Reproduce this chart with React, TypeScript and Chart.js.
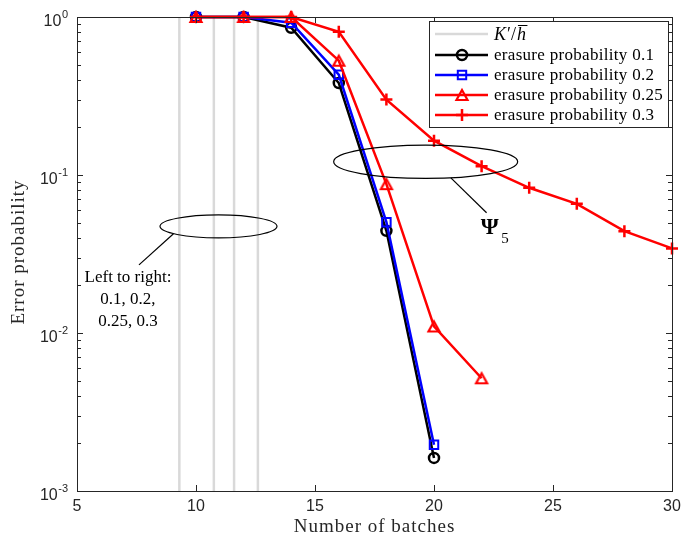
import React, { useEffect, useRef } from "react";
import { Chart, registerables } from "chart.js";

Chart.register(...registerables);

// ---------- data ----------
const batches01 = [10, 12, 14, 16, 18, 20];
const batches02 = [10, 12, 14, 16, 18, 20];
const batches025 = [10, 12, 14, 16, 18, 20, 22];
const batches03 = [10, 12, 14, 16, 18, 20, 22, 24, 26, 28, 30];
const errProb01 = [1, 1, 0.855, 0.382, 0.0443, 0.00162];
const errProb02 = [1, 1, 0.92, 0.431, 0.0503, 0.00196];
const errProb025 = [1, 1, 1, 0.529, 0.0875, 0.011, 0.00517];
const errProb03 = [1, 1, 1, 0.806, 0.3, 0.165, 0.1137, 0.083, 0.0657, 0.0441, 0.0343];
const kOverHbar = [9.3, 10.75, 11.6, 12.6];
const seriesLabels = [
  "erasure probability 0.1",
  "erasure probability 0.2",
  "erasure probability 0.25",
  "erasure probability 0.3",
];
const xTickValues = [5, 10, 15, 20, 25, 30];
const yDecadeExponents = [0, -1, -2, -3];
const xTitle = "Number of batches";
const yTitle = "Error probability";
const noteLines = ["Left to right:", "0.1, 0.2,", "0.25, 0.3"];
const X_MIN = 5;
const X_MAX = 30;
const Y_MIN = 1e-3;
const Y_MAX = 1;
// annotation anchors (data coordinates)
const ellipseLeftAt = { x: 10.945, y: 0.0473 };
const ellipseRightAt = { x: 19.65, y: 0.1213 };

const INK = "#262626";
const GREY = "#d9d9d9";
const SERIF = "'Liberation Serif', 'Times New Roman', serif";
const SANS = "'Liberation Sans', Arial, Helvetica, sans-serif";

const W = 694;
const H = 538;

function makeTriangle(color: string, w: number, h: number, lw: number) {
  const s = 20;
  const c = document.createElement("canvas");
  c.width = s;
  c.height = s;
  const g = c.getContext("2d")!;
  const cx = s / 2;
  const cy = s / 2;
  g.strokeStyle = color;
  g.lineWidth = lw;
  g.lineJoin = "miter";
  g.beginPath();
  g.moveTo(cx, cy - h / 2);
  g.lineTo(cx + w / 2, cy + h / 2);
  g.lineTo(cx - w / 2, cy + h / 2);
  g.closePath();
  g.stroke();
  return c;
}

function drawMarker(ctx: CanvasRenderingContext2D, kind: string, x: number, y: number, color: string, tri?: HTMLCanvasElement) {
  ctx.save();
  ctx.strokeStyle = color;
  ctx.lineWidth = 2.5;
  ctx.beginPath();
  if (kind === "circle") {
    ctx.arc(x, y, 5, 0, Math.PI * 2);
    ctx.stroke();
  } else if (kind === "rect") {
    ctx.lineWidth = 2;
    ctx.rect(x - 4.2, y - 4.2, 8.4, 8.4);
    ctx.stroke();
  } else if (kind === "cross") {
    ctx.moveTo(x - 6, y);
    ctx.lineTo(x + 6, y);
    ctx.moveTo(x, y - 6);
    ctx.lineTo(x, y + 6);
    ctx.stroke();
  } else if (kind === "tri" && tri) {
    ctx.drawImage(tri, x - tri.width / 2, y - tri.height / 2);
  }
  ctx.restore();
}

export default function App() {
  const ref = useRef<HTMLCanvasElement | null>(null);

  useEffect(() => {
    const canvas = ref.current;
    if (!canvas) return;
    const tri = makeTriangle("#ff0000", 11, 10, 2.2);

    const pts = (xs: number[], ys: number[]) => xs.map((x, i) => ({ x, y: ys[i] }));

    const greyLines = kOverHbar.map((k) => ({
      label: "K'/h",
      data: [
        { x: k, y: Y_MIN },
        { x: k, y: Y_MAX },
      ],
      borderColor: GREY,
      borderWidth: 2.5,
      pointRadius: 0,
      order: 10,
    }));

    const overlay = {
      id: "overlay",
      afterDraw(chart: any) {
        const ctx: CanvasRenderingContext2D = chart.ctx;
        const a = chart.chartArea;
        const xs = chart.scales.x;
        const ys = chart.scales.y;
        ctx.save();

        // frame
        ctx.strokeStyle = INK;
        ctx.lineWidth = 1;
        ctx.strokeRect(a.left + 0.5, a.top + 0.5, a.right - a.left, a.bottom - a.top);

        // ticks
        ctx.beginPath();
        xTickValues.forEach((v) => {
          const px = Math.round(xs.getPixelForValue(v)) + 0.5;
          ctx.moveTo(px, a.bottom);
          ctx.lineTo(px, a.bottom - 6);
          ctx.moveTo(px, a.top);
          ctx.lineTo(px, a.top + 6);
        });
        yDecadeExponents.forEach((e) => {
          const py = Math.round(ys.getPixelForValue(Math.pow(10, e))) + 0.5;
          ctx.moveTo(a.left, py);
          ctx.lineTo(a.left + 6, py);
          ctx.moveTo(a.right, py);
          ctx.lineTo(a.right - 6, py);
          if (e > -3) {
            for (let m = 2; m <= 9; m++) {
              const my = Math.round(ys.getPixelForValue(m * Math.pow(10, e - 1))) + 0.5;
              ctx.moveTo(a.left, my);
              ctx.lineTo(a.left + 4, my);
              ctx.moveTo(a.right, my);
              ctx.lineTo(a.right - 4, my);
            }
          }
        });
        ctx.stroke();

        // tick labels
        ctx.fillStyle = INK;
        ctx.font = `16px ${SANS}`;
        ctx.textAlign = "center";
        ctx.textBaseline = "middle";
        xTickValues.forEach((v) => {
          ctx.fillText(String(v), xs.getPixelForValue(v), a.bottom + 16);
        });
        ctx.textAlign = "right";
        ctx.textBaseline = "alphabetic";
        yDecadeExponents.forEach((e) => {
          const py = ys.getPixelForValue(Math.pow(10, e));
          const exp = String(e);
          ctx.font = `11px ${SANS}`;
          const ew = ctx.measureText(exp).width;
          ctx.fillText(exp, a.left - 9, py + 1);
          ctx.font = `16px ${SANS}`;
          ctx.fillText("10", a.left - 9 - ew - 0.5, py + 9.4);
        });

        // axis titles
        ctx.fillStyle = INK;
        ctx.font = `19px ${SERIF}`;
        ctx.textAlign = "center";
        ctx.textBaseline = "middle";
        (ctx as any).letterSpacing = "1px";
        ctx.fillText(xTitle, (a.left + a.right) / 2, a.bottom + 36);
        ctx.save();
        ctx.translate(19, (a.top + a.bottom) / 2 - 2);
        ctx.rotate(-Math.PI / 2);
        ctx.fillText(yTitle, 0, 0);
        ctx.restore();
        (ctx as any).letterSpacing = "0px";

        // legend
        const lx0 = a.right - 243;
        const ly0 = a.top + 4;
        const lx1 = a.right - 4;
        const ly1 = a.top + 110;
        ctx.fillStyle = "#ffffff";
        ctx.fillRect(lx0, ly0, lx1 - lx0, ly1 - ly0);
        ctx.strokeStyle = INK;
        ctx.lineWidth = 1;
        ctx.strokeRect(lx0 + 0.5, ly0 + 0.5, lx1 - lx0, ly1 - ly0);
        const rows = [17, 38, 58, 78, 98].map((d) => a.top + d);
        const sx0 = lx0 + 6;
        const sx1 = lx0 + 59;
        const mx = lx0 + 33;
        const tx = lx0 + 65;
        // K'/h row
        ctx.strokeStyle = GREY;
        ctx.lineWidth = 2.5;
        ctx.beginPath();
        ctx.moveTo(sx0, rows[0]);
        ctx.lineTo(sx1, rows[0]);
        ctx.stroke();
        ctx.fillStyle = "#000";
        ctx.textAlign = "left";
        ctx.textBaseline = "alphabetic";
        const kb = rows[0] + 6;
        let cx = tx;
        ctx.font = `italic 18px ${SERIF}`;
        ctx.fillText("K", cx, kb);
        cx += ctx.measureText("K").width + 1;
        ctx.font = `18px ${SERIF}`;
        ctx.fillText("\u2032/", cx, kb);
        cx += ctx.measureText("\u2032/").width + 1;
        ctx.font = `italic 18px ${SERIF}`;
        ctx.fillText("h", cx, kb);
        const hw = ctx.measureText("h").width;
        ctx.strokeStyle = "#000";
        ctx.lineWidth = 1;
        ctx.beginPath();
        ctx.moveTo(cx + 1, kb - 14.5);
        ctx.lineTo(cx + hw + 1.5, kb - 14.5);
        ctx.stroke();

        const legendSeries = [
          { color: "#000000", kind: "circle" },
          { color: "#0000ff", kind: "rect" },
          { color: "#ff0000", kind: "tri" },
          { color: "#ff0000", kind: "cross" },
        ];
        legendSeries.forEach((s, i) => {
          const y = rows[i + 1];
          ctx.strokeStyle = s.color;
          ctx.lineWidth = 2.5;
          ctx.beginPath();
          ctx.moveTo(sx0, y);
          ctx.lineTo(sx1, y);
          ctx.stroke();
          drawMarker(ctx, s.kind, mx, y, s.color, tri);
          ctx.fillStyle = "#000";
          ctx.font = `17px ${SERIF}`;
          (ctx as any).letterSpacing = "0.3px";
          ctx.textBaseline = "middle";
          ctx.fillText(seriesLabels[i], tx, y + 0.5);
          (ctx as any).letterSpacing = "0px";
        });

        // annotations
        ctx.strokeStyle = "#000";
        ctx.fillStyle = "#000";
        ctx.lineWidth = 1.2;
        const e1x = xs.getPixelForValue(ellipseLeftAt.x);
        const e1y = ys.getPixelForValue(ellipseLeftAt.y);
        ctx.beginPath();
        ctx.ellipse(e1x, e1y, 58.5, 11.5, 0, 0, Math.PI * 2);
        ctx.stroke();
        ctx.beginPath();
        ctx.moveTo(e1x - 45, e1y + 7.4);
        ctx.lineTo(e1x - 79.5, e1y + 38.5);
        ctx.stroke();
        ctx.font = `17px ${SERIF}`;
        ctx.textAlign = "center";
        ctx.textBaseline = "middle";
        noteLines.forEach((t, i) => {
          ctx.fillText(t, e1x - 90.5, e1y + 51.5 + i * 22);
        });

        const e2x = xs.getPixelForValue(ellipseRightAt.x);
        const e2y = ys.getPixelForValue(ellipseRightAt.y);
        ctx.beginPath();
        ctx.ellipse(e2x, e2y, 92, 16.7, 0, 0, Math.PI * 2);
        ctx.stroke();
        ctx.beginPath();
        ctx.moveTo(e2x + 25.2, e2y + 16.1);
        ctx.lineTo(e2x + 60.9, e2y + 51);
        ctx.stroke();
        ctx.textAlign = "left";
        ctx.textBaseline = "alphabetic";
        ctx.font = `bold 23px ${SERIF}`;
        ctx.fillText("\u03A8", e2x + 55, e2y + 72.7);
        ctx.font = `15px ${SERIF}`;
        ctx.fillText("5", e2x + 75.5, e2y + 81);

        ctx.restore();
      },
    };

    const chart = new Chart(canvas, {
      type: "line",
      data: {
        datasets: [
          ...greyLines,
          {
            label: seriesLabels[0],
            data: pts(batches01, errProb01),
            borderColor: "#000000",
            borderWidth: 2.5,
            pointStyle: "circle",
            pointRadius: 5,
            pointBorderWidth: 2.5,
            pointBorderColor: "#000000",
            pointBackgroundColor: "rgba(0,0,0,0)",
            clip: false,
            order: 4,
          },
          {
            label: seriesLabels[1],
            data: pts(batches02, errProb02),
            borderColor: "#0000ff",
            borderWidth: 2.5,
            pointStyle: "rect",
            pointRadius: 6,
            pointBorderWidth: 2,
            pointBorderColor: "#0000ff",
            pointBackgroundColor: "rgba(0,0,0,0)",
            clip: false,
            order: 3,
          },
          {
            label: seriesLabels[2],
            data: pts(batches025, errProb025),
            borderColor: "#ff0000",
            borderWidth: 2.5,
            pointStyle: tri,
            pointRadius: 6,
            clip: false,
            order: 2,
          },
          {
            label: seriesLabels[3],
            data: pts(batches03, errProb03),
            borderColor: "#ff0000",
            borderWidth: 2.5,
            pointStyle: "cross",
            pointRadius: 6,
            pointBorderWidth: 2.5,
            pointBorderColor: "#ff0000",
            clip: false,
            order: 1,
          },
        ] as any,
      },
      options: {
        animation: false,
        responsive: false,
        devicePixelRatio: 1,
        events: [],
        layout: { padding: { left: 77, top: 17, right: W - 672, bottom: H - 491 } },
        scales: {
          x: { type: "linear", min: X_MIN, max: X_MAX, display: false },
          y: { type: "logarithmic", min: Y_MIN, max: Y_MAX, display: false },
        },
        plugins: {
          legend: { display: false },
          tooltip: { enabled: false },
          title: { display: false },
        },
      } as any,
      plugins: [overlay],
    });

    return () => chart.destroy();
  }, []);

  return (
    <div style={{ position: "absolute", left: 0, top: 0, width: W, height: H }}>
      <canvas ref={ref} width={W} height={H} style={{ display: "block" }} />
    </div>
  );
}
